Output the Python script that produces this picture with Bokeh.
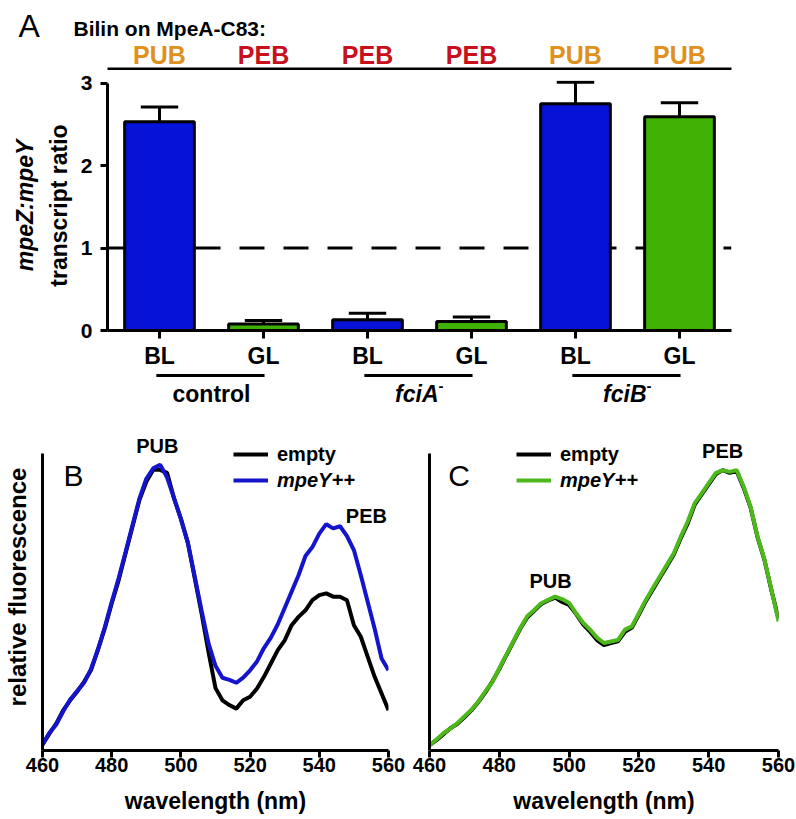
import numpy as np
from bokeh.plotting import figure
from bokeh.layouts import column, row
from bokeh.models import (Range1d, FixedTicker, LinearAxis, Span,
                          ColumnDataSource, Legend, LegendItem)
from bokeh.embed import file_html
from bokeh.resources import INLINE
from bokeh.core.properties import value

FONT = "Liberation Sans"

# ---------------- Panel A data ----------------
strains = ["control", "control", "fciA", "fciA", "fciB", "fciB"]
light = ["BL", "GL", "BL", "GL", "BL", "GL"]
ratio = [2.53, 0.08, 0.13, 0.11, 2.75, 2.59]
sem = [0.18, 0.04, 0.08, 0.055, 0.26, 0.17]
bilin = ["PUB", "PEB", "PEB", "PEB", "PUB", "PUB"]
group_names = ["control", "fciA", "fciB"]
group_super = ["", "-", "-"]
group_italic = [False, True, True]
threshold = 1.0
yticks_a = [0, 1, 2, 3]

# ---------------- Panels B / C data ----------------
wl = [460, 462, 464, 466, 468, 470, 472, 474, 476, 478, 480, 482, 484, 486, 488, 490,
      492, 494, 496, 498, 500, 502, 504, 506, 508, 510, 512, 514, 516, 518, 520, 522,
      524, 526, 528, 530, 532, 534, 536, 538, 540, 542, 544, 546, 548, 550, 552, 554,
      556, 558, 560]
b_empty = [0.020, 0.057, 0.091, 0.136, 0.169, 0.198, 0.231, 0.270, 0.338, 0.411, 0.495,
           0.573, 0.663, 0.753, 0.843, 0.905, 0.945, 0.945, 0.935, 0.850, 0.780, 0.700,
           0.580, 0.460, 0.330, 0.210, 0.169, 0.153, 0.141, 0.169, 0.181, 0.209, 0.248,
           0.293, 0.338, 0.371, 0.422, 0.450, 0.472, 0.506, 0.523, 0.529, 0.518, 0.518,
           0.506, 0.422, 0.383, 0.315, 0.248, 0.192, 0.136]
b_mpey = [0.020, 0.060, 0.088, 0.132, 0.172, 0.200, 0.228, 0.274, 0.340, 0.415, 0.500,
          0.580, 0.668, 0.758, 0.848, 0.915, 0.950, 0.962, 0.920, 0.850, 0.780, 0.700,
          0.585, 0.470, 0.360, 0.285, 0.245, 0.238, 0.228, 0.245, 0.270, 0.300, 0.345,
          0.380, 0.425, 0.480, 0.535, 0.590, 0.655, 0.685, 0.730, 0.762, 0.748, 0.755,
          0.722, 0.675, 0.590, 0.500, 0.410, 0.310, 0.270]
c_empty = [0.018, 0.035, 0.055, 0.075, 0.090, 0.112, 0.135, 0.163, 0.196, 0.232, 0.274,
           0.320, 0.365, 0.410, 0.448, 0.470, 0.493, 0.505, 0.515, 0.500, 0.490, 0.460,
           0.425, 0.400, 0.372, 0.355, 0.362, 0.368, 0.400, 0.414, 0.458, 0.503, 0.542,
           0.582, 0.620, 0.660, 0.715, 0.765, 0.828, 0.862, 0.896, 0.930, 0.944, 0.935,
           0.940, 0.885, 0.818, 0.718, 0.640, 0.538, 0.445]
c_mpey = [0.018, 0.037, 0.058, 0.074, 0.092, 0.115, 0.137, 0.165, 0.199, 0.230, 0.277,
          0.322, 0.367, 0.412, 0.452, 0.473, 0.496, 0.507, 0.518, 0.510, 0.497, 0.462,
          0.430, 0.407, 0.380, 0.362, 0.367, 0.372, 0.407, 0.418, 0.462, 0.507, 0.547,
          0.586, 0.625, 0.664, 0.720, 0.771, 0.833, 0.866, 0.900, 0.934, 0.944, 0.938,
          0.944, 0.889, 0.820, 0.720, 0.642, 0.540, 0.435]
xticks_bc = [460, 480, 500, 520, 540, 560]
series_labels = ["empty", "mpeY++"]
peak_labels = ["PUB", "PEB"]

# ---------------- styles ----------------
BLUE_BAR = "#0612D8"
GREEN_BAR = "#3FB004"
ORANGE = "#E0901C"
RED = "#C8101C"
BLUE_LINE = "#1414CC"
GREEN_LINE = "#4DB81A"
bilin_color = {"PUB": ORANGE, "PEB": RED}
light_color = {"BL": BLUE_BAR, "GL": GREEN_BAR}

TOTAL_W = 788
A_LEFT, A_FRAME_W, A_RIGHT = 107, 624, 57
A_TOP, A_FRAME_H, A_BOTTOM = 10, 250, 39
HEADER_H, FOOTER_H = 70, 37
PXU = 82.5                      # pixels per ratio unit in panel A
UPP = len(light) / A_FRAME_W    # x data units per pixel in panel A


def style_axis(ax, tick_size, tick_out=7):
    ax.axis_line_width = 3
    ax.axis_line_color = "black"
    ax.major_tick_line_width = 3
    ax.major_tick_line_color = "black"
    ax.major_tick_out = tick_out
    ax.major_tick_in = 0
    ax.minor_tick_line_color = None
    ax.major_label_text_font = FONT
    ax.major_label_text_font_style = "bold"
    ax.major_label_text_font_size = tick_size
    ax.major_label_text_color = "black"
    ax.axis_label_text_font = FONT
    ax.axis_label_text_font_style = "bold"
    ax.axis_label_text_color = "black"


def bare(p):
    p.grid.visible = False
    p.outline_line_color = None
    return p


# ================= Panel A (bars) =================
xc = [i + 0.5 for i in range(len(light))]
x_range_a = Range1d(0, len(light))
pa = bare(figure(frame_width=A_FRAME_W, frame_height=A_FRAME_H,
                 x_range=x_range_a, y_range=Range1d(0, A_FRAME_H / PXU),
                 output_backend="svg", toolbar_location=None,
                 min_border_left=A_LEFT, min_border_right=A_RIGHT,
                 min_border_top=A_TOP, min_border_bottom=A_BOTTOM))

# y (ratio units) of a pixel row of the page, for the stacked header/footer strips
A_AXIS_ROW = HEADER_H + A_TOP + A_FRAME_H


def ya(row_px):
    return (A_AXIS_ROW - row_px) / PXU


pa.add_layout(Span(location=threshold, dimension="width", line_color="black",
                   line_width=3, line_dash="25 19", level="underlay"))

src_a = ColumnDataSource(dict(x=xc, top=ratio, err=[r + s for r, s in zip(ratio, sem)],
                              color=[light_color[l] for l in light]))
pa.vbar(x="x", top="top", width=0.67, source=src_a, fill_color="color",
        line_color="black", line_width=3)
pa.segment(x0="x", y0="top", x1="x", y1="err", source=src_a, line_color="black", line_width=3)
src_cap = ColumnDataSource(dict(x0=[x - 0.18 for x in xc], x1=[x + 0.18 for x in xc],
                                y=[r + s for r, s in zip(ratio, sem)]))
pa.segment(x0="x0", y0="y", x1="x1", y1="y", source=src_cap, line_color="black", line_width=3)

pa.xaxis.ticker = FixedTicker(ticks=xc)
pa.xaxis.major_label_overrides = {x: l for x, l in zip(xc, light)}
style_axis(pa.xaxis[0], "23px", tick_out=8)
pa.xaxis.major_label_standoff = 4

pa.yaxis.ticker = FixedTicker(ticks=yticks_a)
pa.yaxis.bounds = (0, 3)
style_axis(pa.yaxis[0], "21px", tick_out=7)
pa.yaxis.major_label_standoff = 8
pa.yaxis.axis_label = "transcript ratio"
pa.yaxis.axis_label_text_font_size = "23px"
pa.yaxis.axis_label_standoff = 6

ax2 = LinearAxis(ticker=FixedTicker(ticks=[]), axis_label="mpeZ:mpeY")
ax2.axis_line_color = None
ax2.major_tick_line_color = None
ax2.minor_tick_line_color = None
ax2.axis_label_text_font = FONT
ax2.axis_label_text_font_style = "bold italic"
ax2.axis_label_text_font_size = "23px"
ax2.axis_label_text_color = "black"
ax2.axis_label_standoff = 5
pa.add_layout(ax2, "left")

# ---------- header strip (panel letter, title, bilin labels, bracket line) ----------
hdr = bare(figure(width=TOTAL_W, height=HEADER_H,
                  x_range=Range1d(-A_LEFT * UPP, (TOTAL_W - A_LEFT) * UPP),
                  y_range=Range1d(ya(HEADER_H), ya(0)),
                  x_axis_type=None, y_axis_type=None, output_backend="svg",
                  toolbar_location=None, min_border_left=0, min_border_right=0,
                  min_border_top=0, min_border_bottom=0))
hdr.text(x=[-0.856], y=[ya(25)], text=["A"], text_font=value(FONT), text_font_size="32px",
         text_color="black", text_align="left", text_baseline="middle")
hdr.text(x=[-0.327], y=[ya(28)], text=["Bilin on MpeA-C83:"], text_font=value(FONT),
         text_font_style="bold", text_font_size="21px", text_color="black",
         text_align="left", text_baseline="middle")
src_bil = ColumnDataSource(dict(x=xc, y=[ya(54.5)] * len(xc), text=bilin,
                                color=[bilin_color[b] for b in bilin]))
hdr.text(x="x", y="y", text="text", source=src_bil, text_color="color",
         text_font=value(FONT), text_font_style="bold", text_font_size="25px",
         text_align="center", text_baseline="middle")
hdr.segment(x0=[0], y0=[ya(68.5)], x1=[len(light)], y1=[ya(68.5)],
            line_color="black", line_width=3)

# ---------- footer strip (strain brackets) ----------
foot_top = A_AXIS_ROW + A_BOTTOM
ftr = bare(figure(frame_width=A_FRAME_W, frame_height=FOOTER_H, x_range=x_range_a,
                  y_range=Range1d(ya(foot_top + FOOTER_H), ya(foot_top)),
                  x_axis_type=None, y_axis_type=None, output_backend="svg",
                  toolbar_location=None, min_border_left=A_LEFT, min_border_right=A_RIGHT,
                  min_border_top=0, min_border_bottom=0))
g_first = [xc[i] for i in range(0, len(xc), 2)]
g_second = [xc[i + 1] for i in range(0, len(xc), 2)]
src_g = ColumnDataSource(dict(x0=[g - 0.03 for g in g_first], x1=[g + 0.01 for g in g_second],
                              y=[ya(373)] * len(g_first)))
ftr.segment(x0="x0", y0="y", x1="x1", y1="y", source=src_g, line_color="black", line_width=3)
g_mid = [(a + b) / 2 for a, b in zip(g_first, g_second)]
for xm, name, sup, it in zip(g_mid, group_names, group_super, group_italic):
    if sup:
        # name right-aligned so that name + superscript are centred on the bracket
        ftr.text(x=[xm], y=[ya(391.5)], text=[name], x_offset=19,
                 text_font=value(FONT), text_font_style="bold italic",
                 text_font_size="23px", text_color="black", text_align="right",
                 text_baseline="middle")
        ftr.text(x=[xm], y=[ya(391.5)], text=[sup], x_offset=19, y_offset=-8,
                 text_font=value(FONT), text_font_style="bold",
                 text_font_size="15px", text_color="black", text_align="left",
                 text_baseline="middle")
    else:
        ftr.text(x=[xm], y=[ya(391.5)], text=[name],
                 text_font=value(FONT), text_font_style="bold italic" if it else "bold",
                 text_font_size="23px", text_color="black", text_align="center",
                 text_baseline="middle")

# ================= Panels B and C =================
PXV = 297.0
BC_TOP, BC_FRAME_H, BC_BOTTOM = 15, 327, 70


def spectrum_fig(left, right, frame_w, empty, mpey, color, ylabel, letter, letter_x,
                 peak_x, peak_y, leg_x):
    p = bare(figure(frame_width=frame_w, frame_height=BC_FRAME_H, x_range=Range1d(460, 560),
                    y_range=Range1d(0, BC_FRAME_H / PXV), output_backend="svg",
                    toolbar_location=None, min_border_left=left, min_border_right=right,
                    min_border_top=BC_TOP, min_border_bottom=BC_BOTTOM))
    r0 = p.line(wl, empty, line_color="black", line_width=4)
    r1 = p.line(wl, mpey, line_color=color, line_width=4)
    p.xaxis.ticker = FixedTicker(ticks=xticks_bc)
    style_axis(p.xaxis[0], "20px", tick_out=7)
    p.xaxis.major_label_standoff = 0
    p.xaxis.axis_label = "wavelength (nm)"
    p.xaxis.axis_label_text_font_size = "23px"
    p.xaxis.axis_label_standoff = 13
    p.yaxis.ticker = FixedTicker(ticks=[])
    p.yaxis.bounds = (0, 1)
    style_axis(p.yaxis[0], "20px", tick_out=0)
    if ylabel:
        p.yaxis.axis_label = ylabel
        p.yaxis.axis_label_text_font_size = "24px"
        p.yaxis.axis_label_standoff = 12
    p.text(x=peak_x, y=peak_y, text=peak_labels, text_color="black",
           text_font=value(FONT), text_font_style="bold", text_font_size="20px",
           text_align="center", text_baseline="middle")
    p.text(x=[letter_x], y=[0.925], text=[letter], text_font=value(FONT), text_color="black",
           text_font_size="30px", text_align="left", text_baseline="middle")
    for i, (r, style, yy) in enumerate([(r0, "bold", 284), (r1, "bold italic", 258)]):
        lg = Legend(items=[LegendItem(label=series_labels[i], renderers=[r])],
                    location=(leg_x, yy), padding=0, margin=0, glyph_width=35,
                    glyph_height=24, label_height=24, label_standoff=9,
                    border_line_color=None, background_fill_alpha=0,
                    label_text_font=FONT, label_text_font_style=style,
                    label_text_color="black", label_text_font_size="20px")
        p.add_layout(lg)
    return p


pb = spectrum_fig(40, 24, 346, b_empty, b_mpey, BLUE_LINE, "relative fluorescence", "B", 466.1,
                  [493.2, 553.6], [1.024, 0.79], 191)
pc = spectrum_fig(17, 20, 349, c_empty, c_mpey, GREEN_LINE, None, "C", 465.4,
                  [494.7, 544.0], [0.572, 1.01], 87)

layout = column(row(hdr), pa, ftr, row(pb, pc))
open("out.html", "w").write(file_html(layout, INLINE))
